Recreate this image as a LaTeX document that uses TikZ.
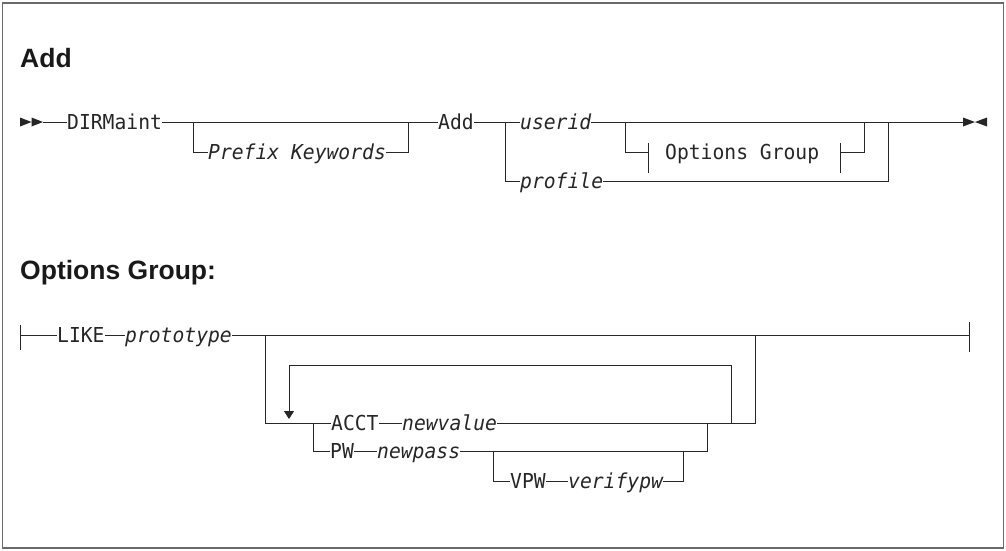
\documentclass[tikz,border=0pt]{standalone}
\usepackage{fontspec}
\setmainfont{Liberation Sans}
\setmonofont{DejaVu Sans Mono}[ItalicFont={DejaVu Sans Mono Oblique}, FakeStretch=0.955]
\usetikzlibrary{arrows.meta}
\definecolor{rgrey}{HTML}{262626}
\definecolor{fgrey}{HTML}{6A6A6A}
\tikzset{
  >=Latex,
  rail/.style={draw=rgrey, line width=0.9pt},
  frame/.style={draw=fgrey, line width=1.6pt},
  kw/.style={
    inner sep=0pt, anchor=west, text height=15pt, text depth=0pt,
    text=rgrey, font=\fontsize{20.6}{23}\selectfont\ttfamily
  },
  var/.style={kw, font=\fontsize{20.6}{23}\selectfont\ttfamily\itshape},
  ttl/.style={inner sep=0pt, anchor=base west, text=black!90,
    font=\fontsize{26.5}{30}\selectfont\bfseries}
}

\begin{document}
\begin{tikzpicture}[x=1pt, y=-1pt]
  \useasboundingbox (0,0) rectangle (1006,550);
  \draw[frame] (2.5,3) rectangle (1003.5,548);

  \node[ttl] (tadd) at (20,67) {Add};
  \fill[rgrey] (20,117.5) -- (31.5,122) -- (20,126.5) -- cycle
    (31.5,117.5) -- (43,122) -- (31.5,126.5) -- cycle;
  \coordinate (s0) at (43,122);
  \node[kw] (dirm) at (67,122) {DIRMaint};
  \node[var] (pk) at (208,152) {Prefix Keywords};
  \node[kw] (add) at (438,122) {Add};
  \node[var] (uid) at (520,122) {userid};
  \node[var] (prof) at (520,181) {profile};
  \node[kw] (og) at (665,152) {Options Group};
  \coordinate (pkL) at (193,122);
  \coordinate (pkR) at (408,122);
  \coordinate (chL) at (505,122);
  \coordinate (ogL) at (625,122);
  \coordinate (ogR) at (864,122);
  \coordinate (ogbl) at (648,152);
  \coordinate (ogbr) at (840,152);
  \coordinate (prR) at (888,122);
  \coordinate (e0) at (963,122);
  \draw[rail] (s0) -- (dirm.west);
  \draw[rail] (dirm.east) -- (add.west);
  \draw[rail] (pkL) |- (pk.west);
  \draw[rail] (pk.east) -| (pkR);
  \draw[rail] (add.east) -- (uid.west);
  \draw[rail] (chL) |- (prof.west);
  \draw[rail] (uid.east) -- (e0);
  \draw[rail] (prof.east) -| (prR);
  \draw[rail] (ogL) |- (ogbl);
  \draw[rail] (ogbr) -| (ogR);
  \draw[rail] (ogbl) ++(0,-9) -- ++(0,30);
  \draw[rail] (ogbr) ++(0,-9) -- ++(0,30);
  \fill[rgrey] (963,117.5) -- (975,122) -- (963,126.5) -- cycle
    (987,117.5) -- (975,122) -- (987,126.5) -- cycle;

  \node[ttl] (tog) at (20,279) {Options Group:};
  \coordinate (sb) at (20,335);
  \coordinate (eb) at (969,335);
  \draw[rail] (sb) ++(0,-10) -- ++(0,25);
  \draw[rail] (eb) ++(0,-13) -- ++(0,30);
  \node[kw] (like) at (57,335) {LIKE};
  \node[var] (proto) at (125,335) {prototype};
  \node[kw] (acct) at (331,423) {ACCT};
  \node[var] (nval) at (402,423) {newvalue};
  \node[kw] (pw) at (330,451) {PW};
  \node[var] (npass) at (377,451) {newpass};
  \node[kw] (vpw) at (510,481) {VPW};
  \node[var] (vfy) at (568,481) {verifypw};
  \coordinate (grL) at (265,335);
  \coordinate (grR) at (755,335);
  \coordinate (chA) at (313,423);
  \coordinate (pwR) at (707,423);
  \coordinate (vL) at (493,451);
  \coordinate (vR) at (683,451);
  \coordinate (rpR) at (731,423);
  \coordinate (rpT) at (289,365);
  \coordinate (rpB) at (289,419);
  \draw[rail] (sb) -- (like.west);
  \draw[rail] (like.east) -- (proto.west);
  \draw[rail] (proto.east) -- (eb);
  \draw[rail] (grL) |- (acct.west);
  \draw[rail] (acct.east) -- (nval.west);
  \draw[rail] (nval.east) -| (grR);
  \draw[rail] (chA) |- (pw.west);
  \draw[rail] (pw.east) -- (npass.west);
  \draw[rail] (npass.east) -| (pwR);
  \draw[rail] (vL) |- (vpw.west);
  \draw[rail] (vpw.east) -- (vfy.west);
  \draw[rail] (vfy.east) -| (vR);
  \draw[rail, -{Triangle[length=8pt,width=10pt]}] (rpR) |- (rpT) -- (rpB);
\end{tikzpicture}
\end{document}
